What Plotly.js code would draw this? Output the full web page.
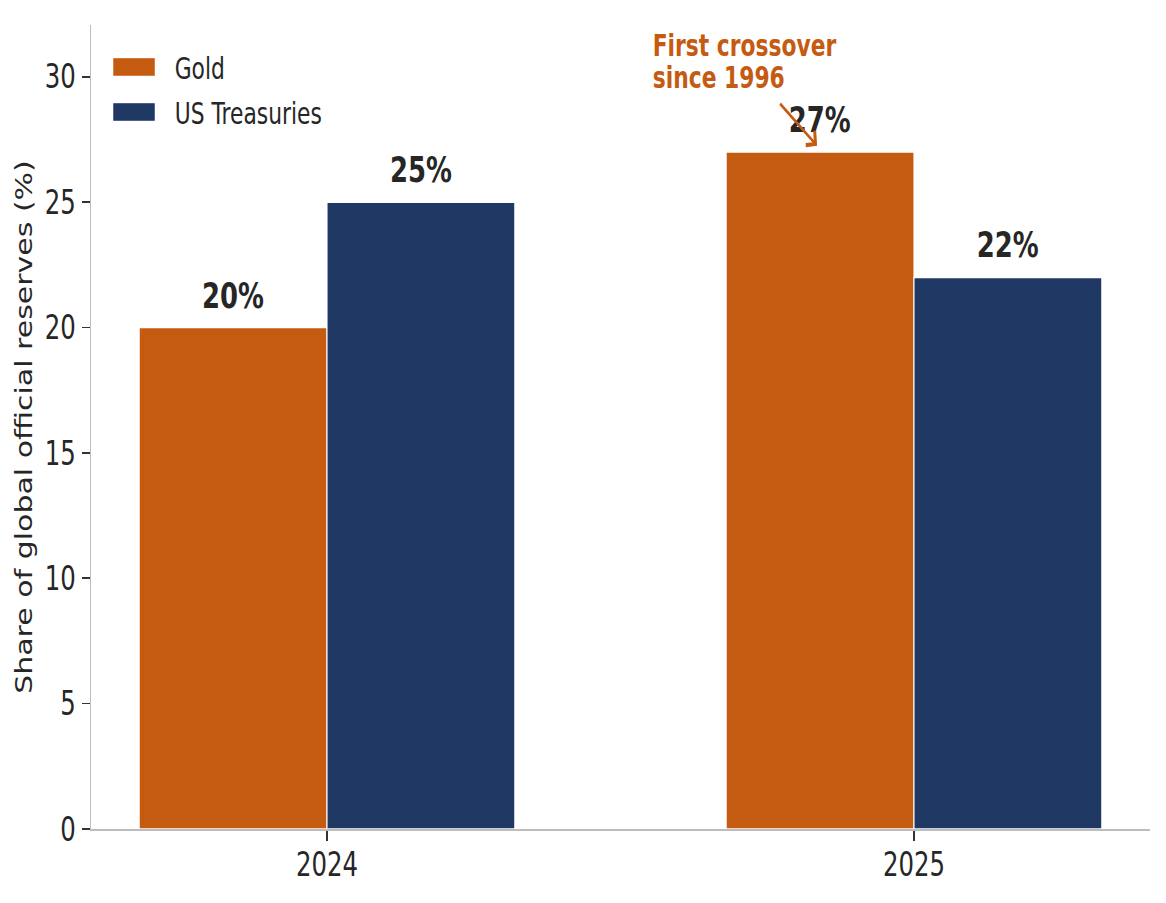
<!DOCTYPE html>
<html>
<head>
<meta charset="utf-8">
<script src="https://cdn.plot.ly/plotly-3.0.1.min.js"></script>
<style>
  html, body { margin: 0; padding: 0; background: #ffffff; overflow: hidden; }
  #wrap { width: 1166px; height: 903px; overflow: hidden; }
  #chart { width: 1576px; height: 903px; transform: scaleX(0.74); transform-origin: 0 0; }
</style>
</head>
<body>
<div id="wrap"><div id="chart"></div></div>
<script>
// ---- data ----
const years = ['2024', '2025'];
const goldShare = [20, 27];
const treasuryShare = [25, 22];
const seriesNames = ['Gold', 'US Treasuries'];
const seriesColors = ['#C55A11', '#203864'];
const yTickVals = [0, 5, 10, 15, 20, 25, 30];
const yTitle = 'Share of global official reserves (%)';
const calloutLines = ['First crossover', 'since 1996'];

// ---- styling constants ----
const FONT = 'DejaVu Sans, Verdana, sans-serif';
const TEXT = '#262626';
const BAR_HALF = 0.16;      // half of a bar's width in category units
const LABEL_PAD = 0.4;      // data units above bar top
const calloutColor = seriesColors[0];

const series = [goldShare, treasuryShare];

const traces = series.map((vals, i) => ({
  type: 'bar',
  name: seriesNames[i],
  x: years,
  y: vals,
  marker: { color: seriesColors[i], line: { color: '#ffffff', width: 1.5 } },
  showlegend: false,
  hoverinfo: 'skip'
}));

const annotations = [];
// value labels above bars
series.forEach((vals, s) => {
  const off = s === 0 ? -BAR_HALF : BAR_HALF;
  vals.forEach((v, i) => {
    annotations.push({
      x: i + off, y: v + LABEL_PAD, xref: 'x', yref: 'y',
      text: '<b>' + v + '%</b>', showarrow: false,
      xanchor: 'center', yanchor: 'bottom',
      font: { family: FONT, size: 35, color: TEXT }
    });
  });
});

// callout text (two lines)
const calloutX = 0.552;
const calloutY = [31.23, 29.96];
calloutLines.forEach((t, k) => {
  annotations.push({
    x: calloutX, y: calloutY[k], xref: 'x', yref: 'y',
    text: '<b>' + t + '</b>', showarrow: false,
    xanchor: 'left', yanchor: 'middle',
    font: { family: FONT, size: 29.5, color: calloutColor }
  });
});
// callout arrow pointing at the 2025 gold bar
annotations.push({
  x: 1 - BAR_HALF - 0.005, y: goldShare[1] + 0.25, xref: 'x', yref: 'y',
  ax: 0.770, ay: 28.98, axref: 'x', ayref: 'y',
  text: ' ', font: { size: 1 },
  showarrow: true, arrowhead: 4, arrowsize: 1.2, arrowwidth: 3,
  arrowcolor: calloutColor, standoff: 0, startstandoff: 0
});

// custom legend (patches + labels)
const shapes = [];
const legendRows = [[0.959, 0.9366], [0.903, 0.8806]];
seriesNames.forEach((n, i) => {
  shapes.push({
    type: 'rect', xref: 'paper', yref: 'paper',
    x0: 0.0208, x1: 0.0604, y0: legendRows[i][1], y1: legendRows[i][0],
    fillcolor: seriesColors[i], line: { color: '#ffffff', width: 0.5 }
  });
  annotations.push({
    x: 0.0774, y: (legendRows[i][0] + legendRows[i][1]) / 2 - 0.002,
    xref: 'paper', yref: 'paper', text: n, showarrow: false,
    xanchor: 'left', yanchor: 'middle',
    font: { family: FONT, size: 29.5, color: TEXT }
  });
});

const layout = {
  width: 1576, height: 903,
  margin: { l: 123, r: 22, t: 25, b: 74, pad: 0 },
  paper_bgcolor: '#ffffff', plot_bgcolor: '#ffffff',
  barmode: 'group', bargap: 0.36, bargroupgap: 0,
  font: { family: FONT, color: TEXT },
  xaxis: {
    type: 'category', range: [-0.402, 1.402],
    showline: true, linecolor: '#bdbdbd', linewidth: 2,
    ticks: 'outside', ticklen: 10, tickwidth: 1.6, tickcolor: '#333333',
    ticklabelstandoff: -5,
    tickfont: { family: FONT, size: 33, color: TEXT },
    showgrid: false, zeroline: false, fixedrange: true
  },
  yaxis: {
    range: [0, 32.07],
    tickvals: yTickVals, ticktext: yTickVals.map(String),
    showline: true, linecolor: '#bdbdbd', linewidth: 2,
    ticks: 'outside', ticklen: 10, tickwidth: 1.6, tickcolor: '#333333',
    ticklabelstandoff: 2,
    tickfont: { family: FONT, size: 33, color: TEXT },
    title: { text: yTitle, font: { family: FONT, size: 30, color: TEXT }, standoff: 7 },
    showgrid: false, zeroline: false, fixedrange: true
  },
  annotations: annotations,
  shapes: shapes,
  showlegend: false
};

Plotly.newPlot('chart', traces, layout, { displayModeBar: false, staticPlot: true });
</script>
</body>
</html>
